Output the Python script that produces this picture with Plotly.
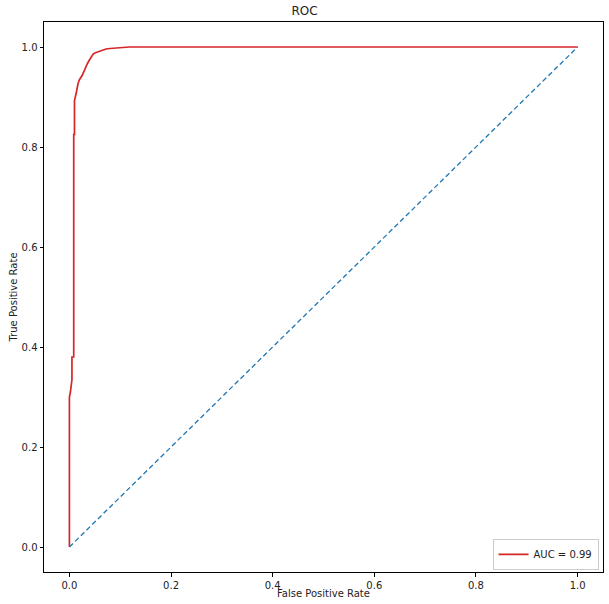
import plotly.graph_objects as go

fpr = [0.0, 0.0, 0.002, 0.005, 0.005, 0.0085, 0.0085, 0.010, 0.010, 0.0118, 0.0138,
       0.017, 0.020, 0.025, 0.030, 0.0355, 0.040, 0.0467, 0.050, 0.059, 0.072,
       0.080, 0.118, 1.0]
tpr = [0.0, 0.30, 0.31, 0.335, 0.38, 0.38, 0.825, 0.825, 0.893, 0.900, 0.910,
       0.927, 0.935, 0.943, 0.955, 0.967, 0.975, 0.986, 0.988, 0.991, 0.996,
       0.997, 1.0, 1.0]
diag = [0.0, 1.0]
auc_label = "AUC = 0.99"
ticks = [0.0, 0.2, 0.4, 0.6, 0.8, 1.0]
tick_text = ["0.0", "0.2", "0.4", "0.6", "0.8", "1.0"]

fig = go.Figure()
fig.add_trace(go.Scatter(x=fpr, y=tpr, mode="lines", name=auc_label,
                         line=dict(color="#d62728", width=1.7)))
fig.add_trace(go.Scatter(x=diag, y=diag, mode="lines", showlegend=False,
                         line=dict(color="#1f77b4", width=1.3, dash="5px,3px")))

axis_common = dict(showgrid=False, zeroline=False, showline=True, linecolor="black",
                   linewidth=1, mirror=True, ticks="outside", ticklen=3.5,
                   tickcolor="black", range=[-0.05, 1.05], tickvals=ticks,
                   ticktext=tick_text, tickfont=dict(size=10, color="#222"),
                   automargin=False)
fig.update_layout(
    width=609, height=604,
    margin=dict(l=44, r=6, t=22, b=32),
    paper_bgcolor="white", plot_bgcolor="white",
    font=dict(family="DejaVu Sans", size=10, color="#222"),
    title=dict(text="ROC", x=0.5, xanchor="center", y=1.0, yanchor="top",
               font=dict(size=12), pad=dict(t=7)),
    xaxis=dict(**axis_common),
    yaxis=dict(**axis_common, title=dict(text="True Positive Rate", standoff=2,
                                         font=dict(size=10))),
    legend=dict(x=0.992, y=0.004, xanchor="right", yanchor="bottom",
                bgcolor="white", bordercolor="#cccccc", borderwidth=1,
                font=dict(size=10)),
    annotations=[dict(text="False Positive Rate", x=0.5, y=0, xref="paper",
                      yref="paper", xanchor="center", yanchor="top", yshift=-14,
                      showarrow=False, font=dict(size=10, color="#222"))],
)
fig.write_html("out.html", config={"displayModeBar": False},
               post_script="document.body.style.margin='0';document.body.style.overflow='hidden';")
